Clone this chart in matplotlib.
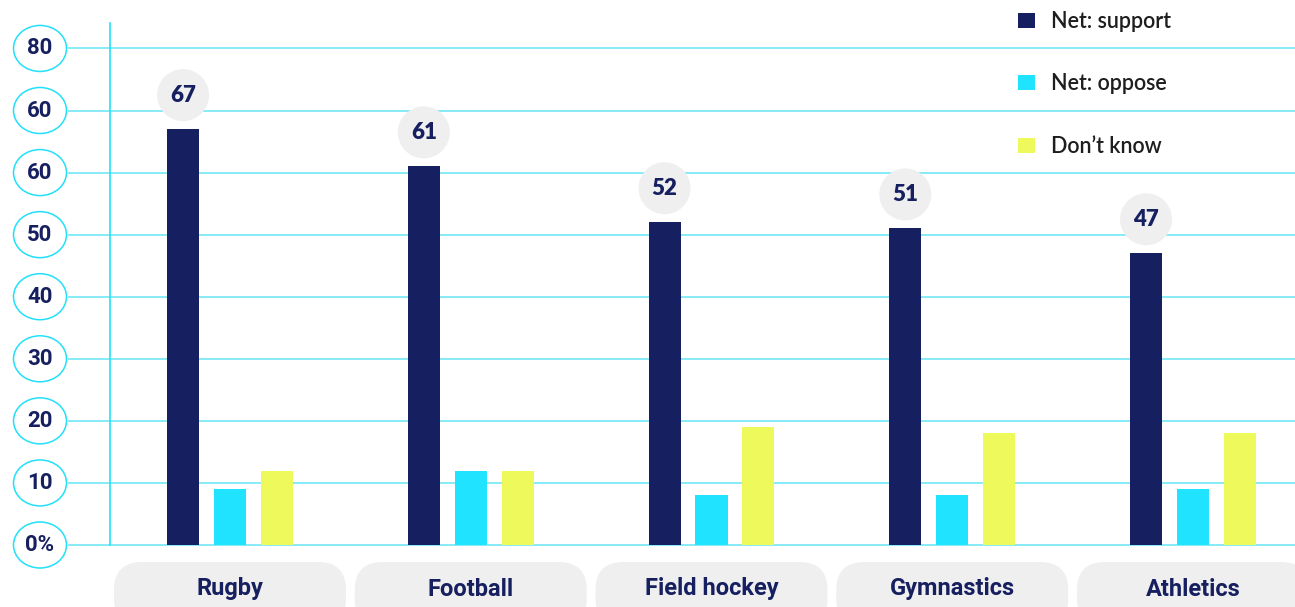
import matplotlib
matplotlib.use("Agg")
import matplotlib.pyplot as plt
from matplotlib.patches import Ellipse, Circle, FancyBboxPatch, Patch

# ------------------------------------------------------------
# data
# ------------------------------------------------------------
sports = ["Rugby", "Football", "Field hockey", "Gymnastics", "Athletics"]
net_support = [67, 61, 52, 51, 47]
net_oppose = [9, 12, 8, 8, 9]
dont_know = [12, 12, 19, 18, 18]
series_names = ["Net: support", "Net: oppose", "Don\u2019t know"]

y_ticks = [0, 10, 20, 30, 40, 50, 60, 70, 80]
y_tick_labels = ["0%", "10", "20", "30", "40", "50", "60", "60", "80"]

# ------------------------------------------------------------
# style
# ------------------------------------------------------------
W, H = 1295, 607
DPI = 100

NAVY = "#161f5f"
CYAN = "#1fe3ff"
YELLOW = "#eefa5b"
GRID = "#86ebf8"
AXIS_LINE = "#22e0f8"
PILL_GREY = "#efefef"
TEXT_DARK = "#1e1e1e"

COND_BOLD = ["Liberation Sans Narrow", "Roboto", "DejaVu Sans"]
LABEL_FONT = ["Lato", "DejaVu Sans"]

BAR_W = 0.133
OFFSET = 0.195

fig = plt.figure(figsize=(W / DPI, H / DPI), dpi=DPI)
fig.patch.set_facecolor("white")

# plotting area (left spine is the thin cyan vertical line)
ax = fig.add_axes([110 / W, 62 / H, 1185 / W, 522 / H])
ax.set_xlim(-0.4984, 4.4237)
ax.set_ylim(0, 84.1)
ax.set_facecolor("none")

x = list(range(len(sports)))
series = [net_support, net_oppose, dont_know]
colors = [NAVY, CYAN, YELLOW]
for k, (vals, col, name) in enumerate(zip(series, colors, series_names)):
    ax.bar([i + (k - 1) * OFFSET for i in x], vals, width=BAR_W,
           color=col, label=name, zorder=3)

# gridlines reach a little left of the spine, up to the tick bubbles
for t in y_ticks:
    ax.plot([-0.035, 1.0], [t, t], color=GRID, lw=1.4, zorder=1,
            transform=ax.get_yaxis_transform(), clip_on=False)

for side in ["top", "right", "bottom"]:
    ax.spines[side].set_visible(False)
ax.spines["left"].set_color(AXIS_LINE)
ax.spines["left"].set_linewidth(1.2)
ax.set_xticks([])
ax.set_yticks([])

handles = [Patch(facecolor=c, edgecolor="none") for c in colors]
ax.legend(handles, series_names, loc="upper left",
          bbox_to_anchor=(1018 / W, 1 - 11 / H), bbox_transform=fig.transFigure,
          frameon=False, borderpad=0, borderaxespad=0,
          handlelength=0.8, handleheight=0.7, handletextpad=0.75,
          labelspacing=1.92,
          prop={"family": LABEL_FONT, "size": 15.5, "weight": "semibold"},
          labelcolor=TEXT_DARK)

# overlay in pixel units for bubbles, pills and labels
ov = fig.add_axes([0, 0, 1, 1], zorder=5)
ov.set_xlim(0, W)
ov.set_ylim(0, H)
ov.axis("off")
ov.patch.set_alpha(0)


def to_px(xv, yv):
    return ax.transData.transform((xv, yv))


# y tick bubbles
for t, lab in zip(y_ticks, y_tick_labels):
    _, py = to_px(0, t)
    ov.add_patch(Ellipse((40, py), 53, 46, facecolor="white",
                         edgecolor=AXIS_LINE, lw=1.1))
    ov.text(40, py, lab, ha="center", va="center", color=NAVY,
            fontsize=16, fontweight="bold", family=COND_BOLD)

# value bubbles above the support bars
for i, v in enumerate(net_support):
    px, py = to_px(i - OFFSET, v)
    cy = py + 34
    ov.add_patch(Circle((px, cy), 26, facecolor=PILL_GREY, edgecolor="none"))
    ov.text(px, cy, str(v), ha="center", va="center", color=NAVY,
            fontsize=16, fontweight="heavy", family=LABEL_FONT)

# category pills under the axis
for i, name in enumerate(sports):
    px, _ = to_px(i, 0)
    ov.add_patch(FancyBboxPatch((px - 116, -20), 232, 65,
                                boxstyle="round,pad=0,rounding_size=28",
                                facecolor=PILL_GREY, edgecolor="none"))
    ov.text(px, H - 589, name, ha="center", va="center", color=NAVY,
            fontsize=17, fontweight="bold", family=COND_BOLD)

fig.savefig("out.png", dpi=DPI)
